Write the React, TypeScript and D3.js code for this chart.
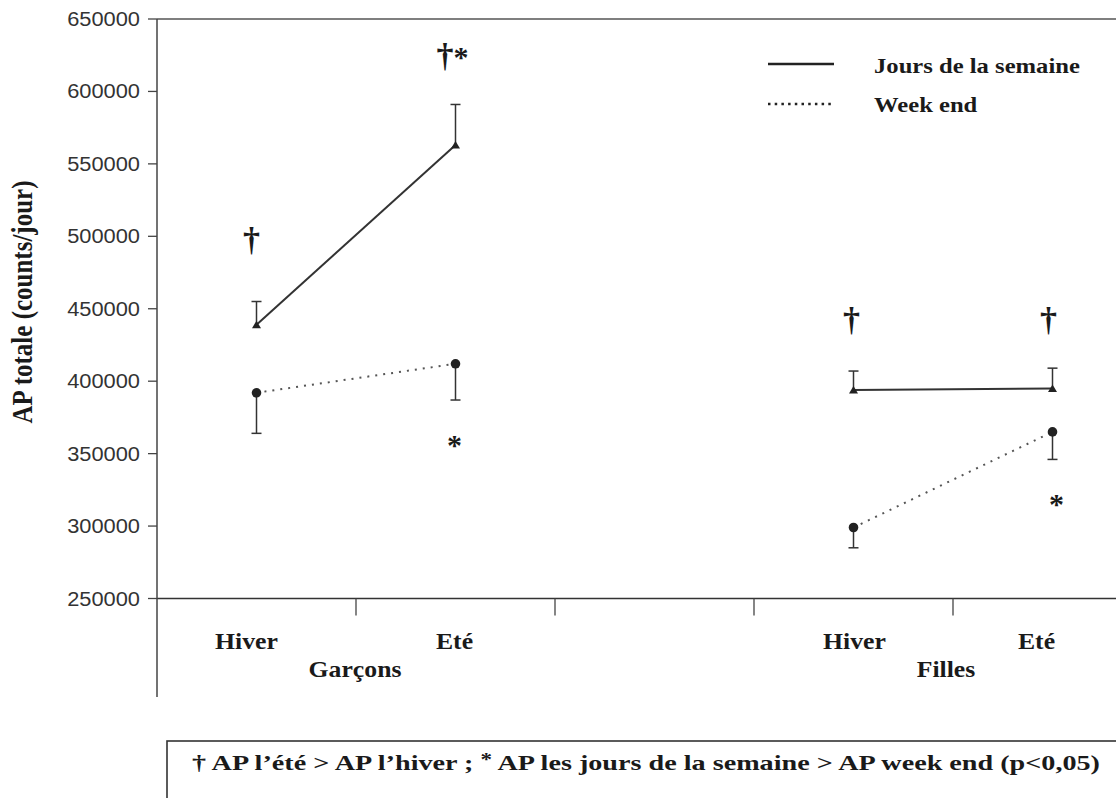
import React from "react";
import * as d3 from "d3";

// ---- data ----
const slots = ["G-Hiver", "G-Eté", "gap", "F-Hiver", "F-Eté"];
const pointSlots = ["G-Hiver", "G-Eté", "F-Hiver", "F-Eté"];
const seasonLabels = ["Hiver", "Eté", "Hiver", "Eté"];
const groupLabels = ["Garçons", "Filles"];
const groupPairs = [[0, 1], [2, 3]];
const weekdayMean = [439000, 563000, 394000, 395000];
const weekdayErr = [16000, 28000, 13000, 14000];
const weekendMean = [392000, 412000, 299000, 365000];
const weekendErr = [28000, 25000, 14000, 19000];
const yTicks = [250000, 300000, 350000, 400000, 450000, 500000, 550000, 600000, 650000];
const legendLabels = ["Jours de la semaine", "Week end"];
const yTitle = "AP totale (counts/jour)";
// significance marks: slot, dagger?, asterisk?, baseline value
const marks = [
  { slot: "G-Hiver", dagger: true, star: false, value: 490000, dx: -5 },
  { slot: "G-Eté", dagger: true, star: true, value: 617000, dx: -3 },
  { slot: "G-Eté", dagger: false, star: true, value: 349000, dx: -1 },
  { slot: "F-Hiver", dagger: true, star: false, value: 434500, dx: -2 },
  { slot: "F-Eté", dagger: true, star: false, value: 434500, dx: -4 },
  { slot: "F-Eté", dagger: false, star: true, value: 308000, dx: 4 },
];
const footnote = ["† AP l’été  > AP l’hiver ; ", "*", " AP les jours de la semaine > AP week end (p<0,05)"];

const W = 1116;
const H = 798;
const SX = 1.12;
const serif = "'Liberation Serif', 'Times New Roman', serif";
const sans = "'Liberation Sans', Arial, sans-serif";
const ink = "#1a1a1a";
const lineCol = "#333";

export default function App() {
  const x = d3.scaleBand<string>().domain(slots).range([157, 1152]).padding(0);
  const y = d3.scaleLinear().domain([250000, 650000]).range([598.5, 19]);
  const cx = (s: string) => (x(s) as number) + x.bandwidth() / 2;
  const line = d3.line<[number, number]>().x((d) => d[0]).y((d) => d[1]);

  const left = 157;
  const right = W + 10;
  const xAxisY = y(250000);

  const labelOffsets = [-10, -1, 1, -16];
  const groupOffsets = [-1, -7];

  const stext = (
    key: string,
    tx: number,
    ty: number,
    content: React.ReactNode,
    size: number,
    anchor: string,
    family = serif,
    weight: string | number = "bold",
    fill = ink
  ) => (
    <text
      key={key}
      transform={`translate(${tx},${ty}) scale(${SX},1)`}
      fontFamily={family}
      fontWeight={weight}
      fontSize={size}
      textAnchor={anchor}
      fill={fill}
    >
      {content}
    </text>
  );

  return (
    <svg width={W} height={H} style={{ position: "absolute", left: 0, top: 0, background: "#fff" }}>
      <rect x={0} y={0} width={W} height={H} fill="#fff" />
      {/* frame lines */}
      <line x1={left} x2={right} y1={y(650000)} y2={y(650000)} stroke="#555" strokeWidth={1.3} />
      <line x1={left} x2={right} y1={xAxisY} y2={xAxisY} stroke="#333" strokeWidth={1.6} />
      <line x1={left} x2={left} y1={y(650000)} y2={697} stroke="#444" strokeWidth={1.5} />

      {/* y ticks */}
      {yTicks.map((t) => (
        <g key={t}>
          <line x1={left - 9} x2={left} y1={y(t)} y2={y(t)} stroke="#444" strokeWidth={1.3} />
          {stext("yl" + t, 140, y(t) + 7, String(t), 19.5, "end", sans, "normal", "#333")}
        </g>
      ))}

      {/* x ticks at band boundaries */}
      {slots.slice(1).map((s) => (
        <line key={s} x1={x(s) as number} x2={x(s) as number} y1={xAxisY} y2={xAxisY + 17} stroke="#444" strokeWidth={1.3} />
      ))}

      {/* x labels */}
      {pointSlots.map((s, i) =>
        stext("xl" + i, cx(s) + labelOffsets[i], 649, seasonLabels[i], 23, "middle")
      )}
      {groupPairs.map((p, gi) =>
        stext("gl" + gi, (x(pointSlots[p[1]]) as number) + groupOffsets[gi], 677, groupLabels[gi], 23, "middle")
      )}

      {/* y title */}
      <text
        transform={`translate(32,302) scale(1.15,1) rotate(-90)`}
        fontFamily={serif}
        fontWeight="bold"
        fontSize={25}
        textAnchor="middle"
        fill={ink}
      >
        {yTitle}
      </text>

      {/* data lines */}
      {groupPairs.map((p, gi) => (
        <g key={"ln" + gi}>
          <path
            d={line(p.map((i) => [cx(pointSlots[i]), y(weekdayMean[i])]))!}
            fill="none"
            stroke={lineCol}
            strokeWidth={2}
          />
          <path
            d={line(p.map((i) => [cx(pointSlots[i]), y(weekendMean[i])]))!}
            fill="none"
            stroke="#555"
            strokeWidth={2}
            strokeDasharray="2,6"
          />
        </g>
      ))}

      {/* error bars & markers */}
      {pointSlots.map((s, i) => {
        const px = cx(s);
        const wd = y(weekdayMean[i]);
        const wdt = y(weekdayMean[i] + weekdayErr[i]);
        const we = y(weekendMean[i]);
        const web = y(weekendMean[i] - weekendErr[i]);
        return (
          <g key={"pt" + i}>
            <line x1={px} x2={px} y1={wd} y2={wdt} stroke="#333" strokeWidth={1.5} />
            <line x1={px - 5} x2={px + 5} y1={wdt} y2={wdt} stroke="#333" strokeWidth={1.5} />
            <path d={`M${px - 4.5},${wd + 3.5}L${px + 4.5},${wd + 3.5}L${px},${wd - 4}Z`} fill="#222" />
            <line x1={px} x2={px} y1={we} y2={web} stroke="#333" strokeWidth={1.5} />
            <line x1={px - 5} x2={px + 5} y1={web} y2={web} stroke="#333" strokeWidth={1.5} />
            <circle cx={px} cy={we} r={4.8} fill="#222" />
          </g>
        );
      })}

      {/* significance marks */}
      {marks.map((m, i) => (
        <text
          key={"mk" + i}
          x={cx(m.slot) + m.dx}
          y={y(m.value)}
          fontFamily={serif}
          fontWeight="bold"
          textAnchor="middle"
          fill={ink}
        >
          {m.dagger && <tspan fontSize={34}>†</tspan>}
          {m.star && <tspan fontSize={30}>*</tspan>}
        </text>
      ))}

      {/* legend */}
      <line x1={768} x2={834} y1={64} y2={64} stroke="#222" strokeWidth={2.5} />
      <line x1={768} x2={834} y1={104} y2={104} stroke="#222" strokeWidth={2.5} strokeDasharray="2.5,4.2" />
      {stext("lg0", 874, 73, legendLabels[0], 22, "start")}
      {stext("lg1", 874, 112, legendLabels[1], 22, "start")}

      {/* footnote box */}
      <rect x={167} y={741} width={1000} height={80} fill="none" stroke="#333" strokeWidth={1.6} />
      <text
        x={192}
        y={770}
        fontFamily={serif}
        fontWeight="bold"
        fontSize={22}
        fill={ink}
        textLength={908}
        lengthAdjust="spacingAndGlyphs"
      >
        <tspan>{footnote[0]}</tspan>
        <tspan dy={-4} fontSize={18}>{footnote[1]}</tspan>
        <tspan dy={4}>{footnote[2]}</tspan>
      </text>
    </svg>
  );
}
